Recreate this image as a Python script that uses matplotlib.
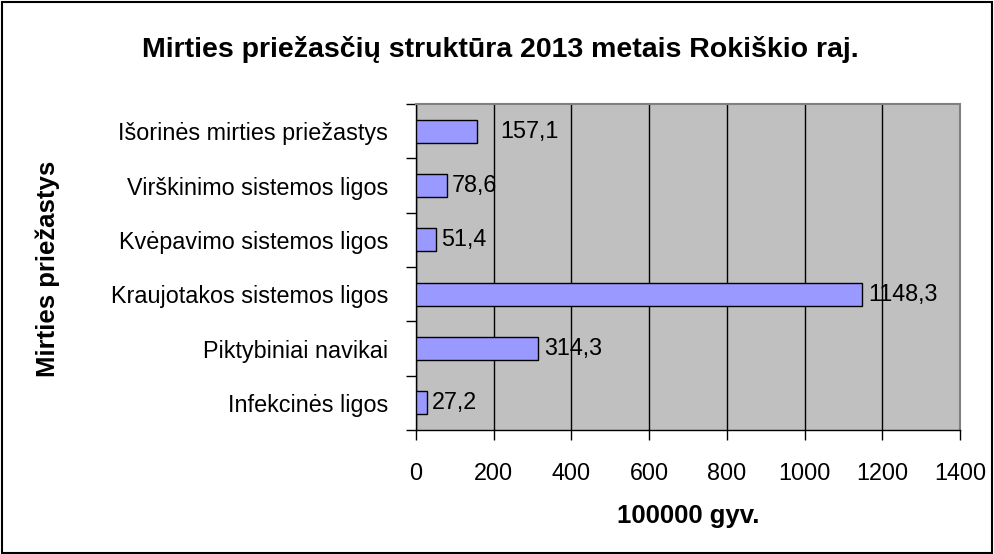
import matplotlib
matplotlib.use("Agg")
import matplotlib.pyplot as plt
from matplotlib.patches import Rectangle
from matplotlib.ticker import MultipleLocator, FixedLocator

plt.rcParams["font.family"] = ["Liberation Sans", "DejaVu Sans"]

# --- duomenys (is apacios i virsu) ----------------------------------- #
categories = [
    "Infekcinės ligos",
    "Piktybiniai navikai",
    "Kraujotakos sistemos ligos",
    "Kvėpavimo sistemos ligos",
    "Virškinimo sistemos ligos",
    "Išorinės mirties priežastys",
]
values = [27.2, 314.3, 1148.3, 51.4, 78.6, 157.1]
value_labels = ["27,2", "314,3", "1148,3", "51,4", "78,6", "157,1"]
xticks = [0, 200, 400, 600, 800, 1000, 1200, 1400]

title = "Mirties priežasčių struktūra 2013 metais Rokiškio raj."
xlabel = "100000 gyv."
ylabel = "Mirties priežastys"

fig = plt.figure(figsize=(9.94, 5.54), dpi=100)
ax = fig.add_axes([0.4185, 0.2238, 0.5473, 0.5884])
ax.set_facecolor("#c0c0c0")

y = list(range(len(categories)))
ax.barh(y, values, height=0.42, color="#9999ff", edgecolor="black", lw=1, zorder=3)

# etiketes prie stulpeliu (virsutine pastumta kaip originale)
for i, (v, lab) in enumerate(zip(values, value_labels)):
    dx = 17 if i == len(values) - 1 else 4
    ax.annotate(lab, (v, i), xytext=(dx, 0), textcoords="offset points",
                ha="left", va="center", fontsize=16.8, zorder=4)

ax.set_xlim(0, 1400)
ax.set_ylim(-0.5, len(categories) - 0.5)
ax.xaxis.set_major_locator(FixedLocator(xticks))
ax.set_xticklabels([str(t) for t in xticks], fontsize=16.8)
ax.xaxis.grid(True, color="black", lw=1, zorder=1)
ax.set_axisbelow(True)
ax.tick_params(axis="x", length=7, width=1, pad=16, direction="out")

ax.set_yticks(y)
ax.set_yticklabels(categories, fontsize=16.8)
ax.tick_params(axis="y", which="major", length=0, pad=20)
ax.yaxis.set_minor_locator(MultipleLocator(1, offset=0.5))
ax.tick_params(axis="y", which="minor", length=7, width=1, direction="out")

for s in ("left", "bottom"):
    ax.spines[s].set_color("black")
    ax.spines[s].set_linewidth(1)
for s in ("top", "right"):
    ax.spines[s].set_color("#808080")
    ax.spines[s].set_linewidth(1.5)

ax.set_xlabel(xlabel, fontsize=18.5, fontweight="bold", labelpad=14)
fig.text(0.048, 0.514, ylabel, rotation=90, ha="center", va="center",
         fontsize=18.5, fontweight="bold")
fig.text(0.503, 0.897, title, ha="center", va="baseline", fontsize=20.5, fontweight="bold")

fig.add_artist(Rectangle((0.002, 0.002), 0.996, 0.995, transform=fig.transFigure,
                         fill=False, edgecolor="black", lw=1.5))

fig.savefig("out.png", dpi=100)
